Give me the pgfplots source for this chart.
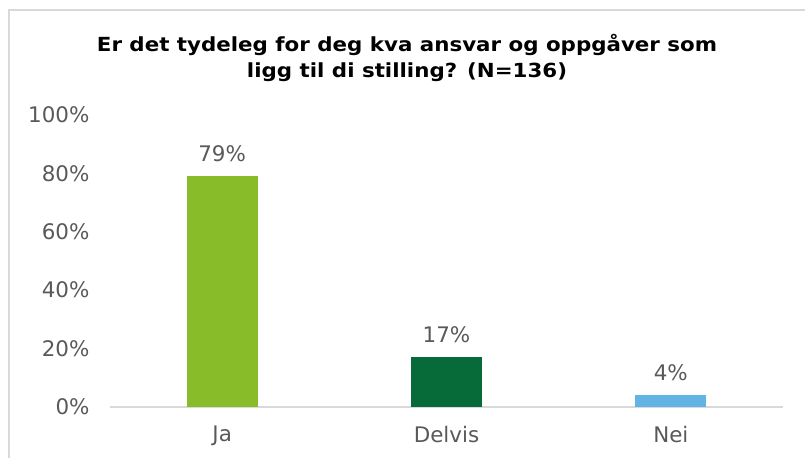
\documentclass[border=0pt]{standalone}
\usepackage{fontspec}
\setmainfont{DejaVu Sans}
\usepackage{pgfplots}
\pgfplotsset{compat=1.18}
\definecolor{ja}{HTML}{88BC28}
\definecolor{delvis}{HTML}{066B39}
\definecolor{nei}{HTML}{62B4E4}
\definecolor{lbl}{HTML}{595959}
\definecolor{frame}{HTML}{D9D9D9}
\begin{document}
\begin{tikzpicture}[x=1bp,y=1bp]
\path[use as bounding box] (0,0) rectangle (805,458);
\draw[frame, line width=1.5bp] (9,0) -- (9,448) -- (805,448);
\node[align=center, font=\fontsize{19.5}{26}\selectfont\bfseries, text=black] at (407,400) {\scalebox{1.1}[1]{Er det tydeleg for deg kva ansvar og oppgåver som}\\\scalebox{1.1}[1]{ligg til di stilling? (N=136)}};
\begin{axis}[
  at={(110bp,51bp)}, anchor=south west,
  scale only axis, width=673bp, height=292bp,
  xmin=-0.5, xmax=2.5, ymin=0, ymax=100,
  axis x line*=bottom, axis y line*=left,
  x axis line style={frame, line width=1.5bp, -},
  y axis line style={draw=none},
  xtick={0,1,2}, xticklabels={Ja,Delvis,Nei},
  xtick style={draw=none},
  ytick={0,20,40,60,80,100},
  yticklabel={\pgfmathprintnumber{\tick}\%},
  ytick style={draw=none},
  /pgf/number format/assume math mode=true,
  tick label style={font=\fontsize{21.5}{26}\selectfont, text=lbl},
  yticklabel style={xshift=-17bp},
  xticklabel style={yshift=-11bp},
  ybar, bar width=71bp, bar shift=0pt,
  nodes near coords={\pgfmathprintnumber{\pgfplotspointmeta}\%},
  nodes near coords style={font=\fontsize{21.5}{26}\selectfont, text=lbl, yshift=11bp},
  clip=false,
]
\addplot[draw=none, fill=ja] coordinates {(0,79)};
\addplot[draw=none, fill=delvis] coordinates {(1,17)};
\addplot[draw=none, fill=nei] coordinates {(2,4)};
\end{axis}
\end{tikzpicture}
\end{document}
